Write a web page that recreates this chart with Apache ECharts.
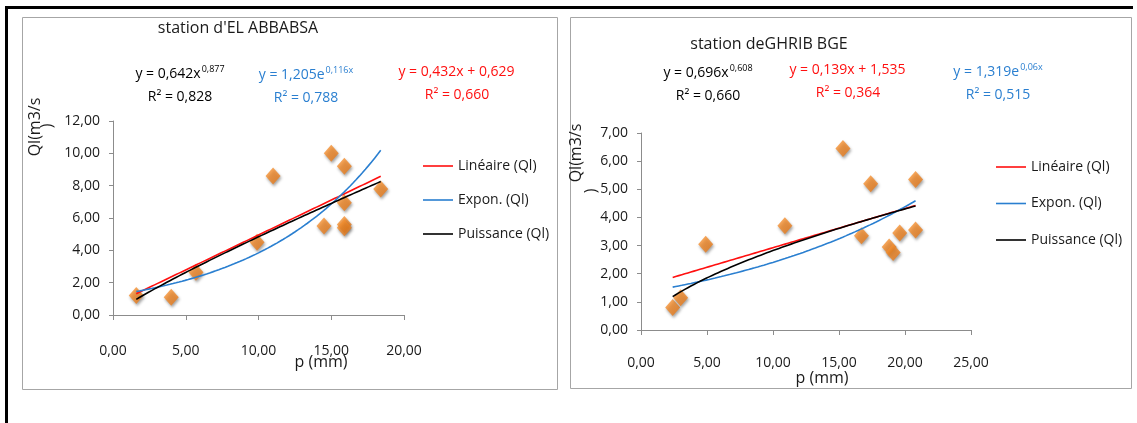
<!DOCTYPE html>
<html>
<head>
<meta charset="utf-8">
<script src="https://cdn.jsdelivr.net/npm/echarts@6/dist/echarts.min.js"></script>
<style>
  html, body { margin: 0; padding: 0; background: #fff; }
  #chart { width: 1137px; height: 423px; }
</style>
</head>
<body>
<div id="chart"></div>
<script>
// Station d'El Abbabsa: rainfall p (mm) vs discharge Ql (m3/s)
const abbabsaP  = [1.6, 4.0, 5.7, 9.9, 11.0, 14.5, 15.0, 15.9, 15.9, 15.9, 15.9, 18.4];
const abbabsaQl = [1.2, 1.1, 2.65, 4.5, 8.6, 5.5, 10.0, 9.2, 6.95, 5.6, 5.4, 7.8];
// Trendline coefficients as printed on the chart
const abbabsaLin = [0.432, 0.629];   // y = a x + b
const abbabsaExp = [1.205, 0.116];   // y = a e^(b x)
const abbabsaPow = [0.642, 0.877];   // y = a x^b

// Station de Ghrib BGE
const ghribP  = [2.4, 3.0, 4.9, 10.9, 15.3, 16.7, 17.4, 18.8, 19.1, 19.6, 20.8, 20.8];
const ghribQl = [0.8, 1.15, 3.05, 3.7, 6.45, 3.35, 5.2, 2.95, 2.75, 3.45, 3.55, 5.35];
const ghribLin = [0.139, 1.535];
const ghribExp = [1.319, 0.06];
const ghribPow = [0.696, 0.608];

const trendNames = ['Linéaire (Ql)', 'Expon. (Ql)', 'Puissance (Ql)'];

const FONT = "'Open Sans',sans-serif";
const RED = '#FF1010', BLUE = '#2A7FD0', BLACK = '#000000';

const fmt = v => v.toFixed(2).replace('.', ',');

// sample a fitted curve across the observed range of p
function curve(xs, f) {
  const lo = Math.min(...xs), hi = Math.max(...xs), n = 80, out = [];
  for (let i = 0; i <= n; i++) {
    const x = lo + (hi - lo) * i / n;
    out.push([x, f(x)]);
  }
  return out;
}

function trendSeries(xs, lin, ex, pw, idx) {
  const mk = (name, color, data) => ({
    name, type: 'line', xAxisIndex: idx, yAxisIndex: idx,
    data, showSymbol: false, symbol: 'none', smooth: false, z: 5,
    color, lineStyle: { color, width: 1.6 }, silent: true
  });
  return [
    mk(trendNames[0], RED,  curve(xs, x => lin[0] * x + lin[1])),
    mk(trendNames[1], BLUE, curve(xs, x => ex[0] * Math.exp(ex[1] * x))),
    mk(trendNames[2], BLACK, curve(xs, x => pw[0] * Math.pow(x, pw[1])))
  ];
}

function scatter(xs, ys, idx) {
  return {
    name: 'Ql', type: 'scatter', xAxisIndex: idx, yAxisIndex: idx, z: 3,
    data: xs.map((x, i) => [x, ys[i]]),
    symbol: 'diamond', symbolSize: [15, 17],
    itemStyle: {
      color: new echarts.graphic.LinearGradient(0, 0, 1, 1, [
        { offset: 0, color: '#FA9A3C' },
        { offset: 1, color: '#E57412' }
      ]),
      shadowBlur: 3, shadowColor: 'rgba(0,0,0,0.45)',
      shadowOffsetX: 1, shadowOffsetY: 2
    }
  };
}

function xAxis(idx, max) {
  return {
    gridIndex: idx, type: 'value', min: 0, max, interval: 5,
    axisLine: { show: true, onZero: false, lineStyle: { color: '#8C8C8C', width: 1 } },
    axisTick: { show: true, length: 5, lineStyle: { color: '#8C8C8C' } },
    splitLine: { show: false },
    axisLabel: { formatter: fmt, fontFamily: FONT, fontSize: 14, color: '#1a1a1a', margin: idx === 0 ? 29 : 26 }
  };
}
function yAxis(idx, max, step) {
  return {
    gridIndex: idx, type: 'value', min: 0, max, interval: step,
    axisLine: { show: true, onZero: false, lineStyle: { color: '#8C8C8C', width: 1 } },
    axisTick: { show: true, length: 4, lineStyle: { color: '#8C8C8C' } },
    splitLine: { show: false },
    axisLabel: { formatter: fmt, fontFamily: FONT, fontSize: 14, color: '#1a1a1a', margin: 13 }
  };
}

function legend(left, top, gap) {
  return {
    orient: 'vertical', left, top, itemGap: gap, selectedMode: false, padding: 0,
    icon: 'rect', itemWidth: 30, itemHeight: 1.6,
    data: trendNames,
    textStyle: { fontFamily: FONT, fontSize: 14, color: '#1a1a1a', lineHeight: 16 }
  };
}

function txt(x, y, text, color, size, rot) {
  return {
    type: 'text', x, y, rotation: rot || 0, z: 10,
    style: { text, fill: color, font: size + 'px ' + FONT, align: 'center', verticalAlign: 'middle' }
  };
}
function eqn(x, y, main, sup, r2, color) {
  return {
    type: 'text', x, y, z: 10,
    style: {
      text: '{a|' + main + '}{s|' + sup + '}\n{a|' + r2 + '}',
      align: 'center', verticalAlign: 'middle', fill: color,
      rich: {
        a: { fontFamily: FONT, fontSize: 14, lineHeight: 23, fill: color },
        s: { fontFamily: FONT, fontSize: 9, lineHeight: 23, verticalAlign: 'top', padding: [2, 0, 0, 1], fill: color }
      }
    }
  };
}
function box(x1, y1, x2, y2) {
  return {
    type: 'rect', z: 0, shape: { x: x1 + 0.5, y: y1 + 0.5, width: x2 - x1, height: y2 - y1 },
    style: { fill: 'none', stroke: '#A6A6A6', lineWidth: 1 }
  };
}
function bar(x1, y1, x2, y2) {
  return { type: 'line', z: 0, shape: { x1, y1, x2, y2 }, style: { stroke: '#000', lineWidth: 3 } };
}

const chart = echarts.init(document.getElementById('chart'), null, { renderer: 'canvas' });
chart.setOption({
  animation: false,
  backgroundColor: '#fff',
  grid: [
    { left: 113, top: 121, width: 291, height: 194 },
    { left: 641, top: 133, width: 330, height: 197 }
  ],
  xAxis: [xAxis(0, 20), xAxis(1, 25)],
  yAxis: [yAxis(0, 12, 2), yAxis(1, 7, 1)],
  legend: [legend(423, 158, 18), legend(996, 159, 20.5)],
  series: [
    scatter(abbabsaP, abbabsaQl, 0),
    ...trendSeries(abbabsaP, abbabsaLin, abbabsaExp, abbabsaPow, 0),
    scatter(ghribP, ghribQl, 1),
    ...trendSeries(ghribP, ghribLin, ghribExp, ghribPow, 1)
  ],
  graphic: [
    bar(7, 7.5, 1133, 7.5),
    bar(6.5, 6, 6.5, 423),
    box(22, 17, 557, 389),
    box(570, 17, 1131, 388),
    // titles
    txt(238, 28, "station d'EL ABBABSA", '#1a1a1a', 16),
    txt(769, 44, 'station deGHRIB BGE', '#1a1a1a', 16),
    // axis names
    txt(35, 127, 'Ql(m3/s', '#1a1a1a', 16, Math.PI / 2),
    txt(47, 126, ')', '#1a1a1a', 16, Math.PI / 2),
    txt(321, 362, 'p (mm)', '#1a1a1a', 16),
    txt(576, 153, 'Ql(m3/s', '#1a1a1a', 16, Math.PI / 2),
    txt(591, 191, ')', '#1a1a1a', 16, Math.PI / 2),
    txt(822, 378, 'p (mm)', '#1a1a1a', 16),
    // fitted equations, El Abbabsa
    eqn(180, 86, 'y = 0,642x', '0,877', 'R² = 0,828', BLACK),
    eqn(306, 87, 'y = 1,205e', '0,116x', 'R² = 0,788', BLUE),
    eqn(457, 84, 'y = 0,432x + 0,629', '', 'R² = 0,660', RED),
    // fitted equations, Ghrib BGE
    eqn(708, 85, 'y = 0,696x', '0,608', 'R² = 0,660', BLACK),
    eqn(848, 82, 'y = 0,139x + 1,535', '', 'R² = 0,364', RED),
    eqn(998, 84, 'y = 1,319e', '0,06x', 'R² = 0,515', BLUE)
  ]
});
</script>
</body>
</html>
